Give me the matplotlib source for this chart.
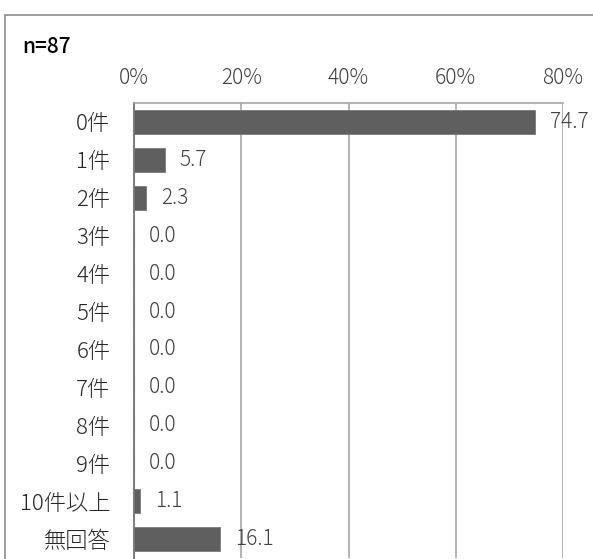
import matplotlib.pyplot as plt
from matplotlib.patches import Rectangle

plt.rcParams['font.family'] = ['Noto Sans CJK JP', 'DejaVu Sans']

categories = ['0件', '1件', '2件', '3件', '4件', '5件', '6件', '7件', '8件', '9件', '10件以上', '無回答']
values = [74.7, 5.7, 2.3, 0.0, 0.0, 0.0, 0.0, 0.0, 0.0, 0.0, 1.1, 16.1]
xticks = [0, 20, 40, 60, 80]
n_label = 'n=87'

W, H = 593, 559
fig = plt.figure(figsize=(W / 100, H / 100), dpi=100)
fig.patch.set_facecolor('white')

# outer chart frame (right and bottom edges fall outside the picture)
fig.patches.append(Rectangle((5 / W, -0.1), 1.2, 1 - 15 / H + 0.1,
                             transform=fig.transFigure, fill=False,
                             edgecolor='#8c8c8c', linewidth=1.2, zorder=0))

ax = fig.add_axes([134 / W, 1 - 558 / H, (563 - 134) / W, (558 - 103) / H])

y = list(range(len(categories)))
ax.barh(y, values, height=0.63, color='#5f5f5f', edgecolor='#7a7a7a', linewidth=0.6, zorder=3)

for yi, v in zip(y, values):
    ax.annotate(f'{v:.1f}', xy=(v, yi), xytext=(11, 0), textcoords='offset points',
                ha='left', va='center', fontsize=15, color='#404040', zorder=4,
                fontweight='light')

ax.set_xlim(0, 80)
ax.set_ylim(len(categories) - 0.5, -0.5)
ax.set_yticks(y)
ax.set_yticklabels(categories, fontsize=16, color='#262626', fontweight='light')
ax.set_xticks(xticks)
ax.set_xticklabels([f'{t}%' for t in xticks], fontsize=15, color='#404040', fontweight='light')
ax.xaxis.tick_top()
ax.tick_params(axis='x', length=0, pad=10)
ax.tick_params(axis='y', length=0, pad=17)

ax.grid(axis='x', color='#a6a6a6', linewidth=1.2, zorder=0)
ax.spines['right'].set_visible(False)
ax.spines['bottom'].set_visible(False)
ax.spines['top'].set_color('#a6a6a6')
ax.spines['top'].set_linewidth(1.2)
ax.spines['left'].set_color('#7f7f7f')
ax.spines['left'].set_linewidth(1.5)

fig.text(22 / W, 1 - 47 / H, n_label, fontsize=15, ha='left', va='center',
         color='#000000', fontweight='medium')

fig.savefig('out.png', dpi=100, facecolor='white')
